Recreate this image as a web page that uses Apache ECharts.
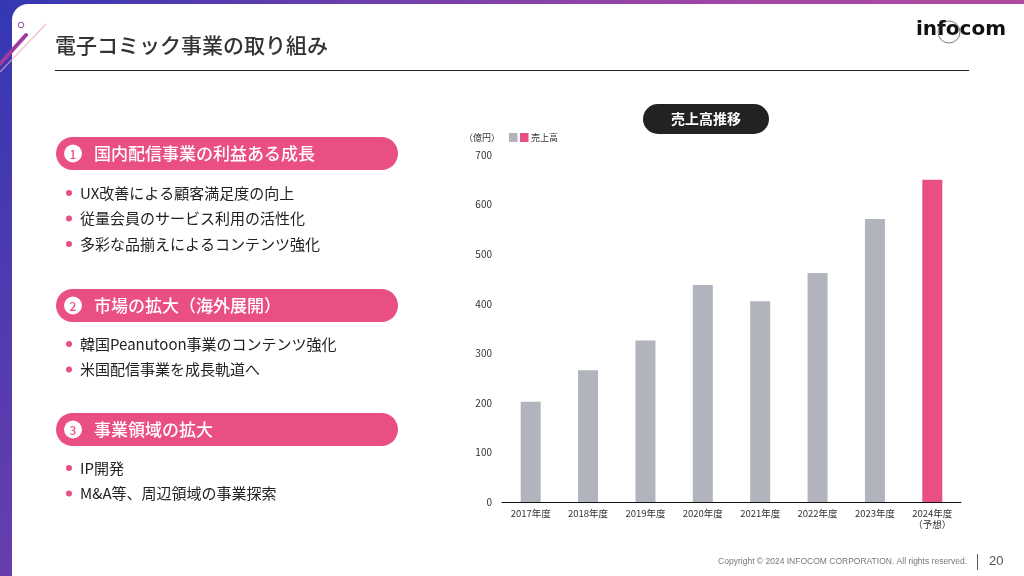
<!DOCTYPE html>
<html>
<head>
<meta charset="utf-8">
<script src="https://cdn.jsdelivr.net/npm/echarts@6/dist/echarts.min.js"></script>
<style>
    html, body { margin: 0; padding: 0; }
    #slide { width: 1024px; height: 576px; }
</style>
</head>
<body>
<div id="slide"></div>
<script>
// chart data
const categories = ['2017年度', '2018年度', '2019年度', '2020年度', '2021年度', '2022年度', '2023年度', '2024年度\n（予想）']
const salesValues = [202, 266, 326, 438, 405, 462, 571, 650]
const isForecast = [false, false, false, false, false, false, false, true]
const yTicks = { min: 0, max: 700, interval: 100 }

// left panel texts
const sectionTitles = ['国内配信事業の利益ある成長', '市場の拡大（海外展開）', '事業領域の拡大']
const sectionBullets = [
    ['UX改善による顧客満足度の向上', '従量会員のサービス利用の活性化', '多彩な品揃えによるコンテンツ強化'],
    ['韓国Peanutoon事業のコンテンツ強化', '米国配信事業を成長軌道へ'],
    ['IP開発', 'M&A等、周辺領域の事業探索'],
]

const PINK = '#ea4f84'
const GRAY = '#b1b3bd'
const FONT = '"Noto Sans CJK JP", "Noto Sans", sans-serif'

const sectionTop = [137, 289, 413]
const bulletTop = [193, 344, 468]

function buildPanel() {
    const els = []
    sectionTitles.forEach((title, i) => {
        const y = sectionTop[i]
        els.push({
            type: 'rect',
            shape: { x: 56, y: y, width: 342, height: 33, r: 16.5 },
            style: { fill: PINK },
        })
        els.push({
            type: 'circle',
            shape: { cx: 73, cy: y + 16.5, r: 9 },
            style: { fill: '#fff' },
        })
        els.push({
            type: 'text',
            style: {
                text: String(i + 1), x: 73, y: y + 17, fill: PINK,
                font: '500 12px ' + FONT, textAlign: 'center', textVerticalAlign: 'middle',
            },
        })
        els.push({
            type: 'text',
            style: {
                text: title, x: 94, y: y + 16.5, fill: '#fff',
                font: '500 17px ' + FONT, textVerticalAlign: 'middle',
            },
        })
        sectionBullets[i].forEach((b, j) => {
            const by = bulletTop[i] + j * 25.5
            els.push({
                type: 'circle',
                shape: { cx: 69, cy: by, r: 3 },
                style: { fill: PINK },
            })
            els.push({
                type: 'text',
                style: {
                    text: b, x: 80, y: by, fill: '#222',
                    font: '15px ' + FONT, textVerticalAlign: 'middle',
                },
            })
        })
    })
    return els
}

const chart = echarts.init(document.getElementById('slide'), null, { renderer: 'canvas' })

chart.setOption({
    animation: false,
    textStyle: { fontFamily: FONT },
    graphic: {
        elements: [
            // background frame
            {
                type: 'rect', z: -10,
                shape: { x: 0, y: 0, width: 1024, height: 576 },
                style: {
                    fill: new echarts.graphic.LinearGradient(0, 0, 1, 1, [
                        { offset: 0, color: '#3437b3' },
                        { offset: 0.5, color: '#9c45a6' },
                        { offset: 1, color: '#c44f96' },
                    ]),
                },
            },
            {
                type: 'rect', z: -9,
                shape: { x: 12, y: 4, width: 1012, height: 572, r: [16, 0, 0, 0] },
                style: { fill: '#fff' },
            },
            // decorative streaks
            {
                type: 'line', z: -8,
                shape: { x1: 46, y1: 24, x2: 0, y2: 72 },
                style: { stroke: 'rgba(240,170,200,0.7)', lineWidth: 1.5 },
            },
            {
                type: 'line', z: -8,
                shape: { x1: 26, y1: 35, x2: 0, y2: 64 },
                style: { stroke: '#a03c9c', lineWidth: 4, lineCap: 'round' },
            },
            {
                type: 'circle',
                shape: { cx: 21, cy: 25, r: 2.8 },
                style: { fill: 'none', stroke: '#8b45a8', lineWidth: 1 },
            },
            // title
            {
                type: 'text',
                style: {
                    text: '電子コミック事業の取り組み', x: 55, y: 45, fill: '#333',
                    font: '500 21px ' + FONT, textVerticalAlign: 'middle',
                },
            },
            {
                type: 'line',
                shape: { x1: 55, y1: 70.5, x2: 969, y2: 70.5 },
                style: { stroke: '#222', lineWidth: 1 },
            },
            // logo
            {
                type: 'text',
                style: {
                    text: 'infocom', x: 961, y: 30, fill: '#111',
                    font: 'bold 20px "DejaVu Sans", sans-serif', textAlign: 'center', textVerticalAlign: 'middle',
                },
            },
            {
                type: 'circle',
                shape: { cx: 949, cy: 32, r: 11 },
                style: { fill: 'none', stroke: '#444', lineWidth: 0.7 },
            },
            // chart title pill
            {
                type: 'rect',
                shape: { x: 643, y: 104, width: 126, height: 30, r: 15 },
                style: { fill: '#222' },
            },
            {
                type: 'text',
                style: {
                    text: '売上高推移', x: 706, y: 119, fill: '#fff',
                    font: 'bold 14px ' + FONT, textAlign: 'center', textVerticalAlign: 'middle',
                },
            },
            // unit + legend
            {
                type: 'text',
                style: {
                    text: '（億円）', x: 464, y: 137.5, fill: '#333',
                    font: '9px ' + FONT, textVerticalAlign: 'middle',
                },
            },
            {
                type: 'rect',
                shape: { x: 509, y: 133, width: 8.5, height: 9 },
                style: { fill: GRAY },
            },
            {
                type: 'rect',
                shape: { x: 520, y: 133, width: 8.5, height: 9 },
                style: { fill: PINK },
            },
            {
                type: 'text',
                style: {
                    text: '売上高', x: 531, y: 137.5, fill: '#333',
                    font: '9px ' + FONT, textVerticalAlign: 'middle',
                },
            },
            // footer
            {
                type: 'text',
                style: {
                    text: 'Copyright © 2024 INFOCOM CORPORATION. All rights reserved.', x: 967, y: 562, fill: '#777',
                    font: '8.5px "Liberation Sans", sans-serif', textAlign: 'right', textVerticalAlign: 'middle',
                },
            },
            {
                type: 'line',
                shape: { x1: 977.5, y1: 554, x2: 977.5, y2: 570 },
                style: { stroke: '#555', lineWidth: 1 },
            },
            {
                type: 'text',
                style: {
                    text: '20', x: 989, y: 561, fill: '#555',
                    font: '13px "Liberation Sans", sans-serif', textVerticalAlign: 'middle',
                },
            },
            ...buildPanel(),
        ],
    },
    grid: {
        left: 502,
        right: 63,
        top: 155,
        bottom: 74,
    },
    xAxis: {
        type: 'category',
        data: categories,
        axisLine: { lineStyle: { color: '#111', width: 1 } },
        axisTick: { show: false },
        axisLabel: {
            color: '#333',
            fontSize: 9.5,
            lineHeight: 11,
            margin: 6,
            interval: 0,
        },
    },
    yAxis: {
        type: 'value',
        min: yTicks.min,
        max: yTicks.max,
        interval: yTicks.interval,
        splitLine: { show: false },
        axisLine: { show: false },
        axisTick: { show: false },
        axisLabel: {
            color: '#333',
            fontSize: 10,
            margin: 10,
        },
    },
    series: [{
        type: 'bar',
        name: '売上高',
        barWidth: 20,
        data: salesValues.map((v, i) => ({
            value: v,
            itemStyle: { color: isForecast[i] ? PINK : GRAY },
        })),
    }],
})
</script>
</body>
</html>
